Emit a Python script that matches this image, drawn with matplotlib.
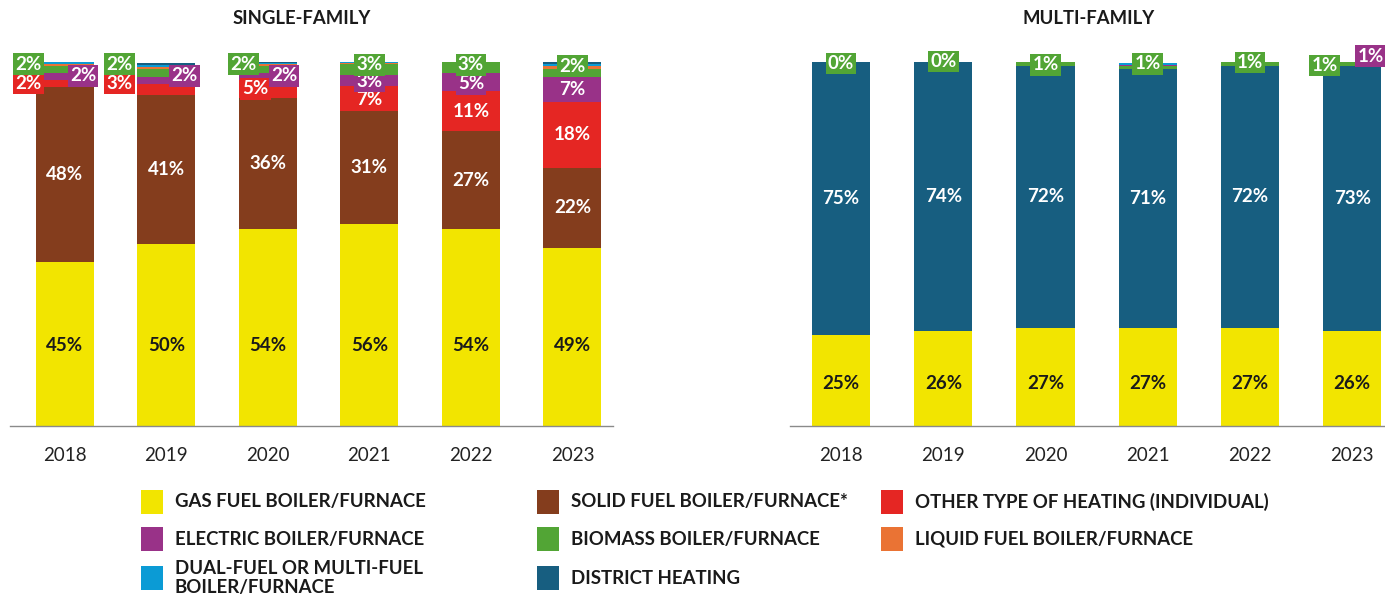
import matplotlib
matplotlib.use("Agg")
import matplotlib.pyplot as plt
from matplotlib.patches import Rectangle
import numpy as np

plt.rcParams["font.family"] = ["Lato", "DejaVu Sans"]

YEARS = ["2018", "2019", "2020", "2021", "2022", "2023"]

# single-family shares (%)
SF_GAS = [45, 50, 54, 55.5, 54, 49]
SF_SOLID = [48, 41, 36, 31, 27, 22]
SF_OTHER = [2, 3, 5, 7, 11, 18]
SF_ELECTRIC = [2, 2, 2, 3, 5, 7]
SF_BIOMASS = [2, 2, 2, 3, 3, 2]
SF_LIQUID = [0.5, 0.7, 0.4, 0.3, 0.3, 0.8]
SF_DUAL = [0.4, 0.6, 0.3, 0.3, 0.2, 0.6]
SF_DISTRICT = [0.4, 0.5, 0.4, 0.3, 0.3, 0.6]

# multi-family shares (%)
MF_GAS = [25, 26, 27, 27, 27, 26]
MF_DISTRICT = [75, 74, 72, 71, 72, 73]
MF_BIOMASS = [0.3, 0.3, 1, 1, 1, 1]
MF_ELECTRIC = [0, 0, 0.3, 0.3, 0, 1]
MF_DUAL = [0.6, 0.5, 0, 0.5, 0, 0]

COLORS = {
    "gas": "#F2E500",
    "solid": "#843D1D",
    "other": "#E52623",
    "electric": "#993288",
    "biomass": "#52A535",
    "liquid": "#EA7334",
    "dual": "#0B9BD5",
    "district": "#175E80",
}
LEGEND = [
    ("gas", "GAS FUEL BOILER/FURNACE"),
    ("solid", "SOLID FUEL BOILER/FURNACE*"),
    ("other", "OTHER TYPE OF HEATING (INDIVIDUAL)"),
    ("electric", "ELECTRIC BOILER/FURNACE"),
    ("biomass", "BIOMASS BOILER/FURNACE"),
    ("liquid", "LIQUID FUEL BOILER/FURNACE"),
    ("dual", "DUAL-FUEL OR MULTI-FUEL\nBOILER/FURNACE"),
    ("district", "DISTRICT HEATING"),
]

SF_STACK = [
    ("gas", SF_GAS), ("solid", SF_SOLID), ("other", SF_OTHER),
    ("electric", SF_ELECTRIC), ("biomass", SF_BIOMASS), ("liquid", SF_LIQUID),
    ("dual", SF_DUAL), ("district", SF_DISTRICT),
]
MF_STACK = [
    ("gas", MF_GAS), ("district", MF_DISTRICT), ("biomass", MF_BIOMASS),
    ("electric", MF_ELECTRIC), ("dual", MF_DUAL),
]
SF_LABELLED = {"gas", "solid", "other", "electric", "biomass"}
MF_LABELLED = {"gas", "district", "biomass"}

# label placement overrides: (year index, series) -> (x offset, y)
SF_LABEL_POS = {
    (0, "gas"): (0, 22), (1, "gas"): (0, 22), (2, "gas"): (0, 22),
    (3, "gas"): (0, 22), (4, "gas"): (0, 22), (5, "gas"): (0, 22),
    (0, "biomass"): (-0.36, 99.4), (0, "other"): (-0.36, 94.2), (0, "electric"): (0.18, 96.2),
    (1, "biomass"): (-0.46, 99.4), (1, "other"): (-0.46, 94.2), (1, "electric"): (0.18, 96.2),
    (2, "biomass"): (-0.24, 99.4), (2, "other"): (-0.12, 92.6), (2, "electric"): (0.16, 96.2),
    (3, "biomass"): (0, 99.2), (3, "electric"): (0, 94.7), (3, "other"): (0, 89.6),
    (4, "biomass"): (0, 99.2), (4, "electric"): (0, 94.0),
    (5, "biomass"): (0, 98.9),
}
MF_LABEL_POS = {
    (0, "gas"): (0, 11.7), (1, "gas"): (0, 11.7), (2, "gas"): (0, 11.7),
    (3, "gas"): (0, 11.7), (4, "gas"): (0, 11.7), (5, "gas"): (0, 11.7),
    (0, "biomass"): (0, 99.6), (1, "biomass"): (0, 100.2),
    (2, "biomass"): (0, 99.2), (3, "biomass"): (0, 99.5),
    (4, "biomass"): (0, 99.8), (5, "biomass"): (-0.27, 99.0),
}

FIG_W, FIG_H = 1385, 598
fig = plt.figure(figsize=(FIG_W / 100, FIG_H / 100), dpi=100)
LABEL_FS = 13.5


def draw_panel(rect, stack, labelled, label_pos, title, title_x, xlim, extra=None):
    ax = fig.add_axes(rect)
    x = np.arange(len(YEARS))
    bottom = np.zeros(len(YEARS))
    for key, values in stack:
        vals = np.array(values, dtype=float)
        ax.bar(x, vals, 0.57, bottom=bottom, color=COLORS[key], linewidth=0)
        if key in labelled:
            for i, v in enumerate(vals):
                dx, y = label_pos.get((i, key), (0, bottom[i] + v / 2))
                text = f"{round(v):.0f}%"
                if key == "gas":
                    ax.text(x[i] + dx, y, text, ha="center", va="center",
                            fontsize=LABEL_FS, fontweight="bold", color="#1a1a1a")
                elif key in ("solid", "district") or v >= 10:
                    ax.text(x[i] + dx, y, text, ha="center", va="center",
                            fontsize=LABEL_FS, fontweight="bold", color="white")
                else:
                    ax.text(x[i] + dx, y, text, ha="center", va="center",
                            fontsize=LABEL_FS, fontweight="bold", color="white", zorder=5,
                            bbox=dict(boxstyle="square,pad=0.12", fc=COLORS[key], ec="none"),
                            clip_on=False)
        bottom += vals
    if extra:
        extra(ax, x)
    ax.set_xlim(*xlim)
    ax.set_ylim(0, 100)
    ax.set_xticks(x)
    ax.set_xticklabels(YEARS, fontsize=13.5, color="#222222")
    ax.tick_params(axis="x", length=0, pad=15)
    ax.set_yticks([])
    for side in ("top", "left", "right"):
        ax.spines[side].set_visible(False)
    ax.spines["bottom"].set_color("#8a8a8a")
    ax.spines["bottom"].set_linewidth(1)
    fig.text(title_x / FIG_W, 1 - 19 / FIG_H, title, ha="center", va="center",
             fontsize=13.3, fontweight="bold", color="#1a1a1a")
    return ax


def mf_electric_label(ax, x):
    ax.text(x[5] + 0.18, 101.6, f"{MF_ELECTRIC[5]:.0f}%", ha="center", va="center",
            fontsize=LABEL_FS, fontweight="bold", color="white", zorder=5,
            bbox=dict(boxstyle="square,pad=0.12", fc=COLORS["electric"], ec="none"),
            clip_on=False)


bottom_f = (FIG_H - 426) / FIG_H
height_f = 364 / FIG_H
draw_panel([10 / FIG_W, bottom_f, 603 / FIG_W, height_f], SF_STACK, SF_LABELLED,
           SF_LABEL_POS, "SINGLE-FAMILY", 302, (-0.54, 5.40))
draw_panel([790 / FIG_W, bottom_f, 595 / FIG_W, height_f], MF_STACK, MF_LABELLED,
           MF_LABEL_POS, "MULTI-FAMILY", 1089, (-0.5, 5.32), extra=mf_electric_label)

# legend
col_x = [141, 537, 881]
row_y = [502, 539, 578]
for i, (key, label) in enumerate(LEGEND):
    cx = col_x[i % 3]
    cy = row_y[i // 3]
    fig.add_artist(Rectangle((cx / FIG_W, (FIG_H - cy - 12) / FIG_H), 22 / FIG_W, 24 / FIG_H,
                             transform=fig.transFigure, color=COLORS[key], linewidth=0))
    fig.text((cx + 34) / FIG_W, (FIG_H - cy) / FIG_H, label, ha="left", va="center",
             fontsize=13.4, fontweight="bold", color="#1a1a1a", linespacing=1.2)

fig.savefig("out.png", dpi=100)
